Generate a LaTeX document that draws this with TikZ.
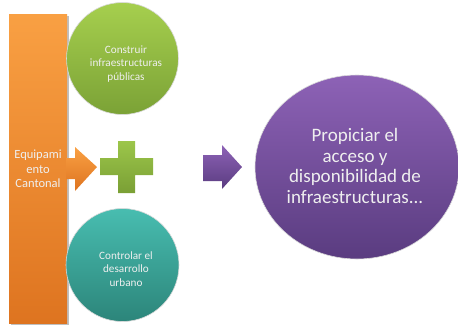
\documentclass[tikz,border=0pt]{standalone}
\usepackage{fontspec}
\setmainfont{Carlito}
\usetikzlibrary{shapes.geometric}
\definecolor{orT}{HTML}{F9A043}
\definecolor{orB}{HTML}{DE7420}
\definecolor{grT}{HTML}{A6CF4E}
\definecolor{grB}{HTML}{7BA236}
\definecolor{tlT}{HTML}{48BDB0}
\definecolor{tlB}{HTML}{2C857A}
\definecolor{puT}{HTML}{8D62B6}
\definecolor{puB}{HTML}{5A3C80}
\definecolor{plT}{HTML}{9CC64A}
\definecolor{plB}{HTML}{7A9F35}
\definecolor{txt}{HTML}{EFEFEF}
\tikzset{
  bubble/.style={circle, inner sep=0pt, draw=white!85!black, line width=0.6pt},
  small/.style={text=txt, align=center, font=\fontsize{11.2}{13.5}\selectfont},
}
\begin{document}
\begin{tikzpicture}[x=1pt,y=-1pt]
\useasboundingbox (0,0) rectangle (458,333);
% orange column
\fill[black!25] (10.5,15.5) rectangle (68.5,324.5);
\node[rectangle, inner sep=0pt, minimum width=58pt, minimum height=309pt,
      top color=orT, bottom color=orB] (eq) at (38,168.5) {};
\node[small, font=\fontsize{12.5}{14.7}\selectfont, text width=58pt] (eqt) at (38,169) {Equipami\\ento\\Cantonal};
% orange arrow
\path[top color=orT, bottom color=orB]
  (66,158) -- (75,158) -- (75,147) -- (97,167) -- (75,191) -- (75,179) -- (66,179) -- cycle;
% green circle
\node[bubble, minimum size=112pt, top color=grT, bottom color=grB] (c1) at (122.5,58.5) {};
\node[small] (c1t) at (126,64) {Construir\\infraestructuras\\públicas};
% teal circle
\node[bubble, minimum size=113pt, top color=tlT, bottom color=tlB] (c2) at (122.5,265) {};
\node[small] (c2t) at (126,269) {Controlar el\\desarrollo\\urbano};
% plus
\path[top color=plT, bottom color=plB]
  (118,141) -- (135,141) -- (135,158) -- (153,158) -- (153,175) -- (135,175)
  -- (135,193) -- (118,193) -- (118,175) -- (100,175) -- (100,158) -- (118,158) -- cycle;
% purple arrow
\path[top color=puT, bottom color=puB]
  (203,155) -- (222,155) -- (222,145) -- (242,167) -- (222,189) -- (222,181) -- (203,181) -- cycle;
% purple circle
\node[ellipse, inner sep=0pt, draw=white!85!black, line width=0.6pt,
      minimum width=204pt, minimum height=184pt, top color=puT, bottom color=puB] (c3) at (357,167) {};
\node[text=txt, align=center, font=\fontsize{19}{20.6}\selectfont] (c3t) at (355,166)
  {Propiciar el\\acceso y\\disponibilidad de\\infraestructuras...};
\end{tikzpicture}
\end{document}
